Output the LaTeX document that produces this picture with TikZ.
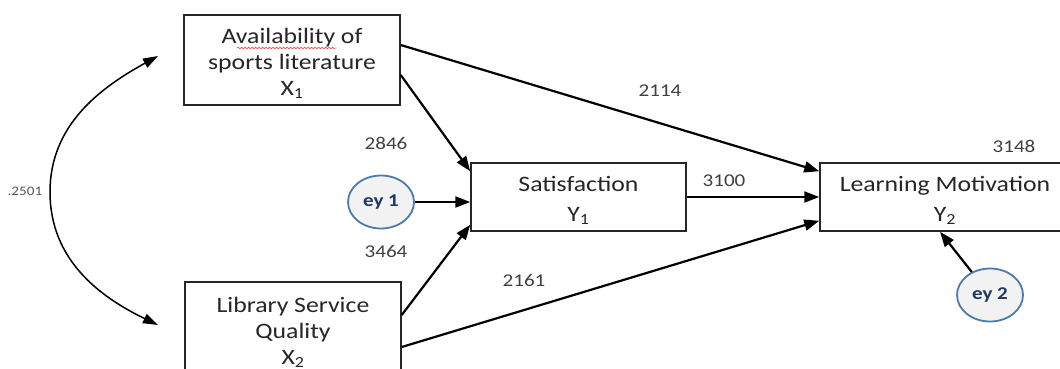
\documentclass[tikz,border=0pt]{standalone}
\usepackage{fontspec}
\setmainfont{Carlito}[FakeStretch=1.17]
\usetikzlibrary{arrows.meta,shapes.geometric,decorations.pathmorphing}
\definecolor{errblue}{HTML}{4A7AAE}
\definecolor{errfill}{HTML}{F2F2F2}
\definecolor{errtext}{HTML}{1F3864}
\definecolor{coefgray}{HTML}{404040}
\newcommand\myboxfont{\fontsize{22}{26}\selectfont}
\newcommand\mywidefont{\fontsize{22}{30}\selectfont}
\newcommand\mycoeffont{\fontsize{18}{20}\selectfont}
\newcommand\myerrfont{\fontsize{18}{20}\selectfont\bfseries}
\begin{document}
\begin{tikzpicture}[x=1pt,y=-1pt,
  box/.style={draw=black!85, line width=1.5pt, inner sep=0pt},
  boxtext/.style={align=center, font=\myboxfont, inner sep=0pt, text=black!85},
  widetext/.style={boxtext, font=\mywidefont},
  err/.style={ellipse, draw=errblue, line width=1.8pt, fill=errfill, minimum width=66pt, minimum height=53pt, inner sep=0pt, font=\myerrfont, text=errtext},
  pth/.style={line width=2.2pt, -{Triangle[length=15pt,width=11pt]}},
  coef/.style={font=\mycoeffont, text=coefgray, inner sep=0pt}
]
\useasboundingbox (0,0) rectangle (1060,368);
\clip (0,0) rectangle (1060,368);
\fill[white] (0,0) rectangle (1060,368);

\node[box, minimum width=216pt, minimum height=90pt] (x1) at (292,60) {};
\node[box, minimum width=216pt, minimum height=96pt] (x2) at (293,330) {};
\node[box, minimum width=215pt, minimum height=68pt] (sat) at (578.5,197) {};
\node[box, minimum width=250pt, minimum height=68pt] (lm) at (945,197) {};
\node[boxtext] (x1t) at ([yshift=-3.5pt]x1.center) {Availability of\\sports literature\\X\textsubscript{1}};
\node[boxtext] (x2t) at ([yshift=-2pt]x2.center) {Library Service\\Quality\\X\textsubscript{2}};
\node[widetext] (satt) at ([yshift=-3pt]sat.center) {Satisfaction\\Y\textsubscript{1}};
\node[widetext] (lmt) at ([yshift=-3pt]lm.center) {Learning Motivation\\Y\textsubscript{2}};
\node[err] (ey1) at (381,202) {ey 1};
\node[err] (ey2) at (990,295) {ey 2};

\draw[red!80, line width=0.5pt, decorate, decoration={snake, amplitude=0.9pt, segment length=3.5pt}] (237,48) -- (336,48);

\draw[pth] ([yshift=-15pt]x1.east) -- ([yshift=-9pt]sat.north west);
\draw[pth] ([yshift=15pt]x1.east) -- ([yshift=-9pt]lm.north west);
\draw[pth] (ey1) -- ([yshift=-5pt]sat.west);
\draw[pth] ([yshift=15pt]x2.east) -- ([yshift=7pt]sat.south west);
\draw[pth] ([yshift=-17pt]x2.east) -- ([yshift=11pt]lm.south west);
\draw[pth] (sat.east) -- (lm.west);
\draw[pth] (ey2) -- ([xshift=-5pt]lm.south);

\coordinate (ca) at (158,56);
\coordinate (cb) at (158,325);
\draw[line width=1.5pt, {Triangle[length=15pt,width=10pt]}-{Triangle[length=15pt,width=10pt]}] (ca) .. controls (100,88) and (50,125) .. (50,192) .. controls (50,260) and (100,297) .. (cb);

\node[coef] (c1) at (660,91) {2114};
\node[coef] (c2) at (386,143) {2846};
\node[coef] (c3) at (386,251) {3464};
\node[coef] (c4) at (724,181) {3100};
\node[coef] (c5) at (524,280) {2161};
\node[coef] (c6) at (1014,146) {3148};
\node[coef, font=\fontsize{13}{15}\selectfont, text=black!65] (c7) at (25,191) {.2501};
\end{tikzpicture}
\end{document}
